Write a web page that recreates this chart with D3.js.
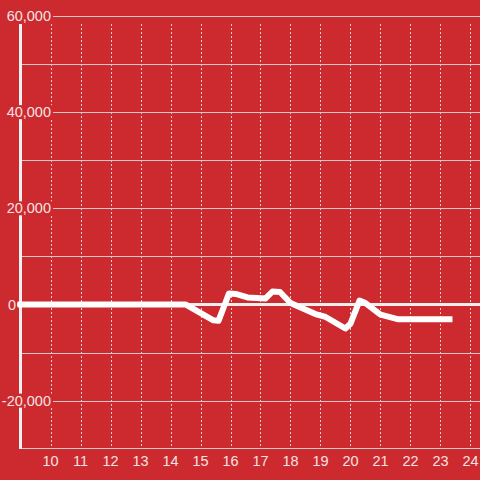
<!DOCTYPE html>
<html>
<head>
<meta charset="utf-8">
<script src="https://cdn.jsdelivr.net/npm/d3@7"></script>
<style>
  html, body { margin: 0; padding: 0; background: #cc2a2f; }
  svg { display: block; }
</style>
</head>
<body>
<div id="chart"></div>
<script>
// series
const times = [8.9, 14.5, 15.43, 15.6, 15.95, 16.17, 16.57, 17.17, 17.4, 17.65, 18.0, 18.83, 19.17, 19.83, 20.0, 20.3, 20.5, 21.0, 21.6, 23.4];
const values = [0, 0, -3300, -3400, 2300, 2200, 1450, 1250, 2700, 2600, 300, -2000, -2600, -5000, -4000, 800, 300, -2100, -3100, -3100];
const xTicks = [10, 11, 12, 13, 14, 15, 16, 17, 18, 19, 20, 21, 22, 23, 24];
const yGrid = [60000, 50000, 40000, 30000, 20000, 10000, 0, -10000, -20000];
const yLabels = [60000, 40000, 20000, 0, -20000];

const width = 480, height = 480;
const bg = "#cc2a2f";
const txt = "#f6e2e2";

// plain hyphen for negatives, like the original
const fmt = d3.formatLocale({decimal: ".", thousands: ",", grouping: [3], currency: ["", ""], minus: "-"}).format(",");

const x = d3.scaleLinear().domain([8.983, 24.317]).range([20, 480]);
const y = d3.scaleLinear().domain([-30000, 60000]).range([448.7, 16]);

const svg = d3.select("#chart").append("svg")
  .attr("width", width).attr("height", height);

svg.append("rect").attr("width", width).attr("height", height).attr("fill", bg);

const px = v => Math.round(v) + 0.5;

// vertical dotted grid
svg.append("g").selectAll("line").data(xTicks).enter().append("line")
  .attr("x1", d => px(x(d))).attr("x2", d => px(x(d)))
  .attr("y1", 24).attr("y2", 448)
  .attr("stroke", "#e8d0d0").attr("stroke-width", 1)
  .attr("stroke-dasharray", "2,2");

// horizontal grid
svg.append("g").selectAll("line").data(yGrid.filter(d => d !== 0)).enter().append("line")
  .attr("x1", 20).attr("x2", width)
  .attr("y1", d => px(y(d))).attr("y2", d => px(y(d)))
  .attr("stroke", "#d9c8c8").attr("stroke-width", 1);

// zero line
svg.append("line")
  .attr("x1", 17).attr("x2", width)
  .attr("y1", y(0)).attr("y2", y(0))
  .attr("stroke", "#eeeeee").attr("stroke-width", 3);

// bottom axis line
svg.append("line")
  .attr("x1", 20).attr("x2", width)
  .attr("y1", 448.5).attr("y2", 448.5)
  .attr("stroke", "#d9c8c8").attr("stroke-width", 1);

// left axis line
svg.append("line")
  .attr("x1", 20.5).attr("x2", 20.5)
  .attr("y1", 24).attr("y2", 449)
  .attr("stroke", "#f0f0f0").attr("stroke-width", 3);

// y labels with background boxes that hide the axis
const yl = svg.append("g").selectAll("g").data(yLabels).enter().append("g")
  .attr("transform", d => "translate(0," + y(d) + ")");
yl.filter(d => d !== 0).append("rect")
  .attr("x", 4).attr("y", -7).attr("width", 49).attr("height", 14)
  .attr("fill", bg);
yl.append("text")
  .attr("x", d => d === 0 ? 16 : 51)
  .attr("dy", "0.35em")
  .attr("text-anchor", "end")
  .attr("font-family", "Liberation Sans, Arial, sans-serif")
  .attr("font-size", 14.5)
  .attr("fill", txt)
  .text(d => fmt(d));

// x labels
svg.append("g").selectAll("text").data(xTicks).enter().append("text")
  .attr("x", d => x(d))
  .attr("y", 466)
  .attr("text-anchor", "middle")
  .attr("font-family", "Liberation Sans, Arial, sans-serif")
  .attr("font-size", 14.5)
  .attr("fill", txt)
  .text(d => d);

// data line
const line = d3.line()
  .x((d, i) => x(times[i]))
  .y(d => y(d));

svg.append("path")
  .datum(values)
  .attr("d", line)
  .attr("fill", "none")
  .attr("stroke", "#ffffff")
  .attr("stroke-width", 6)
  .attr("stroke-linejoin", "round");
</script>
</body>
</html>
